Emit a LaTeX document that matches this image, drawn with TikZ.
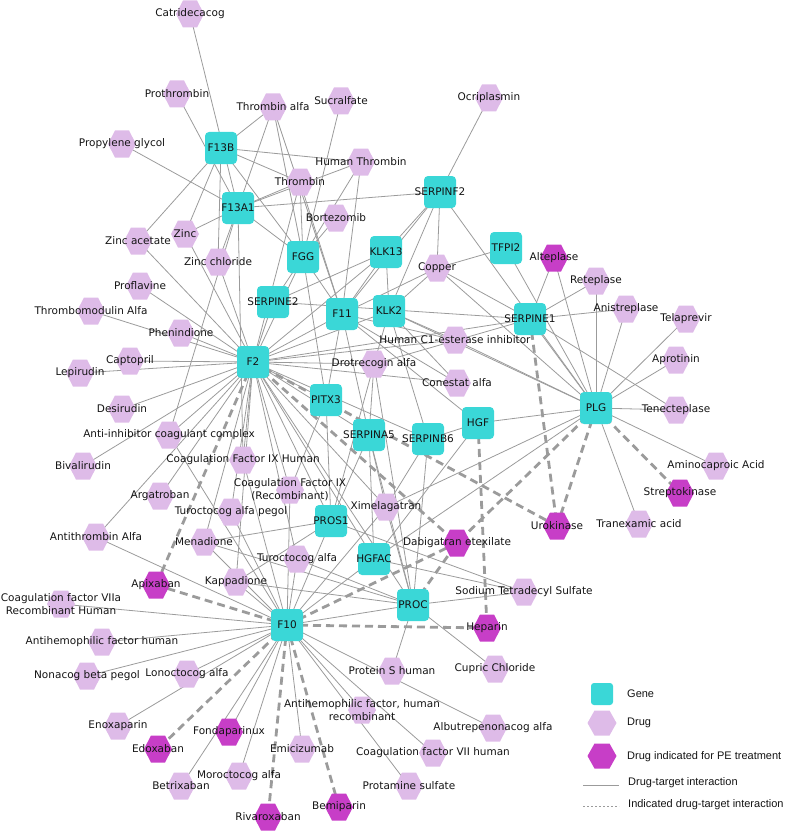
\documentclass[tikz,border=0pt]{standalone}
\usepackage{fontspec}
\setmainfont{DejaVu Sans}
\newfontfamily\legfont{Liberation Sans}
\usetikzlibrary{backgrounds}
\pgfdeclarelayer{fg}
\pgfsetlayers{background,main,fg}
\definecolor{genec}{RGB}{58,215,215}
\definecolor{drugc}{RGB}{222,187,232}
\definecolor{indc}{RGB}{199,62,199}
\definecolor{edgec}{RGB}{155,155,155}
\definecolor{dedgec}{RGB}{155,155,155}
\definecolor{txt}{RGB}{20,20,20}
\newcommand{\hexnode}[5]{%
  \node[hexbox] (#1) at (#2,#3) {};
  \fill[#4] (#1.center) ++(14,0) -- ++(-7,13.5) -- ++(-14,0) -- ++(-7,-13.5) -- ++(7,-13.5) -- ++(14,0) -- cycle;
  \begin{pgfonlayer}{fg}\node[lbl] at (#1.center) {#5};\end{pgfonlayer}%
}
\newcommand{\genenode}[4]{%
  \node[gene] (#1) at (#2,#3) {};
  \begin{pgfonlayer}{fg}\node[lbl] at (#1.center) {#4};\end{pgfonlayer}%
}
\begin{document}
\begin{tikzpicture}[x=1pt,y=-1pt,
  gene/.style={rectangle, rounded corners=4pt, fill=genec, minimum size=32pt, inner sep=0pt},
  hexbox/.style={rectangle, minimum width=28pt, minimum height=27pt, inner sep=0pt},
  lbl/.style={font=\fontsize{10.5}{13}\selectfont, text=txt, align=center, inner sep=0pt},
  legtxt/.style={font=\legfont\fontsize{11}{13}\selectfont, text=txt, anchor=west, inner sep=0pt},
  e/.style={draw=edgec, line width=0.8pt},
  de/.style={draw=dedgec, line width=2.8pt, dash pattern=on 8pt off 5pt}]
\useasboundingbox (0,0) rectangle (784,832);
% genes
\genenode{F13B}{221}{148}{F13B}
\genenode{F13A1}{238}{208}{F13A1}
\genenode{FGG}{303}{257}{FGG}
\genenode{KLK13}{386}{252}{KLK13}
\genenode{SERPINF2}{440}{192}{SERPINF2}
\genenode{TFPI2}{506}{248}{TFPI2}
\genenode{SERPINE2}{273}{302}{SERPINE2}
\genenode{F11}{342}{314}{F11}
\genenode{KLK2}{389}{311}{KLK2}
\genenode{SERPINE1}{530}{319}{SERPINE1}
\genenode{F2}{253}{362}{F2}
\genenode{PITX3}{326}{400}{PITX3}
\genenode{SERPINA5}{369}{435}{SERPINA5}
\genenode{SERPINB6}{428}{439}{SERPINB6}
\genenode{HGF}{478}{423}{HGF}
\genenode{PLG}{596}{408}{PLG}
\genenode{PROS1}{331}{521}{PROS1}
\genenode{HGFAC}{374}{559}{HGFAC}
\genenode{PROC}{413}{605}{PROC}
\genenode{F10}{287}{625}{F10}
% drugs
\hexnode{catr}{190}{14}{drugc}{Catridecacog}
\hexnode{proth}{177}{94}{drugc}{Prothrombin}
\hexnode{thralfa}{273}{107}{drugc}{Thrombin alfa}
\hexnode{sucr}{341}{101}{drugc}{Sucralfate}
\hexnode{ocri}{489}{98}{drugc}{Ocriplasmin}
\hexnode{propg}{122}{144}{drugc}{Propylene glycol}
\hexnode{humthr}{361}{162}{drugc}{Human Thrombin}
\hexnode{thr}{300}{182}{drugc}{Thrombin}
\hexnode{bort}{336}{218}{drugc}{Bortezomib}
\hexnode{zinca}{138}{241}{drugc}{Zinc acetate}
\hexnode{zinc}{185}{234}{drugc}{Zinc}
\hexnode{zincc}{218}{262}{drugc}{Zinc chloride}
\hexnode{copper}{437}{268}{drugc}{Copper}
\hexnode{retep}{596}{281}{drugc}{Reteplase}
\hexnode{anis}{626}{309}{drugc}{Anistreplase}
\hexnode{tela}{686}{319}{drugc}{Telaprevir}
\hexnode{apro}{676}{360}{drugc}{Aprotinin}
\hexnode{tenec}{676}{410}{drugc}{Tenecteplase}
\hexnode{amino}{716}{466}{drugc}{Aminocaproic Acid}
\hexnode{tranex}{639}{524}{drugc}{Tranexamic acid}
\hexnode{prof}{140}{286}{drugc}{Proflavine}
\hexnode{thrmod}{91}{311}{drugc}{Thrombomodulin Alfa}
\hexnode{phen}{181}{333}{drugc}{Phenindione}
\hexnode{capt}{130}{361}{drugc}{Captopril}
\hexnode{lepi}{80}{373}{drugc}{Lepirudin}
\hexnode{desi}{122}{409}{drugc}{Desirudin}
\hexnode{antiinh}{169}{435}{drugc}{Anti-inhibitor coagulant complex}
\hexnode{biva}{83}{466}{drugc}{Bivalirudin}
\hexnode{cf9h}{243}{460}{drugc}{Coagulation Factor IX Human}
\hexnode{cf9r}{290}{490}{drugc}{Coagulation Factor IX\\(Recombinant)}
\hexnode{arga}{160}{496}{drugc}{Argatroban}
\hexnode{turop}{231}{512}{drugc}{Turoctocog alfa pegol}
\hexnode{antithr}{96}{537}{drugc}{Antithrombin Alfa}
\hexnode{mena}{204}{542}{drugc}{Menadione}
\hexnode{turo}{297}{559}{drugc}{Turoctocog alfa}
\hexnode{kappa}{236}{582}{drugc}{Kappadione}
\hexnode{humc1}{455}{340}{drugc}{Human C1-esterase inhibitor}
\hexnode{drot}{374}{364}{drugc}{Drotrecogin alfa}
\hexnode{conest}{457}{383}{drugc}{Conestat alfa}
\hexnode{xime}{386}{507}{drugc}{Ximelagatran}
\hexnode{cf7a}{61}{604}{drugc}{Coagulation factor VIIa\\Recombinant Human}
\hexnode{antihem}{102}{642}{drugc}{Antihemophilic factor human}
\hexnode{nonacog}{87}{676}{drugc}{Nonacog beta pegol}
\hexnode{lonoc}{187}{674}{drugc}{Lonoctocog alfa}
\hexnode{enox}{118}{726}{drugc}{Enoxaparin}
\hexnode{betr}{181}{786}{drugc}{Betrixaban}
\hexnode{moroc}{239}{776}{drugc}{Moroctocog alfa}
\hexnode{emici}{302}{749}{drugc}{Emicizumab}
\hexnode{sts}{524}{592}{drugc}{Sodium Tetradecyl Sulfate}
\hexnode{protS}{392}{671}{drugc}{Protein S human}
\hexnode{cupric}{495}{669}{drugc}{Cupric Chloride}
\hexnode{antihemr}{362}{710}{drugc}{Antihemophilic factor, human\\recombinant}
\hexnode{albu}{493}{728}{drugc}{Albutrepenonacog alfa}
\hexnode{cf7h}{433}{753}{drugc}{Coagulation factor VII human}
\hexnode{protam}{409}{786}{drugc}{Protamine sulfate}
% indicated drugs
\hexnode{altep}{554}{258}{indc}{Alteplase}
\hexnode{strep}{680}{493}{indc}{Streptokinase}
\hexnode{uro}{557}{526}{indc}{Urokinase}
\hexnode{dabi}{457}{543}{indc}{Dabigatran etexilate}
\hexnode{hep}{487}{628}{indc}{Heparin}
\hexnode{apix}{156}{585}{indc}{Apixaban}
\hexnode{edox}{158}{749}{indc}{Edoxaban}
\hexnode{fonda}{229}{732}{indc}{Fondaparinux}
\hexnode{rivar}{268}{817}{indc}{Rivaroxaban}
\hexnode{bemi}{339}{807}{indc}{Bemiparin}
% edges
\begin{pgfonlayer}{background}
\foreach \a/\b in {F13B/thralfa, F13B/humthr, F13B/thr, F13B/zinca, F13B/zinc, F13B/zincc, F13B/FGG,
F13A1/catr, F13A1/proth, F13A1/propg, F13A1/thralfa, F13A1/humthr, F13A1/thr, F13A1/SERPINF2, F13A1/zincc, F13A1/zinc, F13A1/antiinh, F13A1/FGG, F13A1/cf9h,
FGG/thralfa, FGG/sucr, FGG/humthr, FGG/thr, FGG/bort, FGG/F2, FGG/SERPINE2, FGG/F11, FGG/PITX3,
F11/thralfa, F11/thr, F11/humthr, F11/KLK13, F11/SERPINF2, F11/copper, F11/humc1, F11/conest, F11/F2, F11/PITX3, F11/SERPINA5, F11/HGF,
KLK13/SERPINF2, KLK13/SERPINE2, KLK13/KLK2, KLK13/F2,
SERPINF2/ocri, SERPINF2/KLK2, SERPINF2/copper, SERPINF2/PLG,
KLK2/copper, KLK2/humc1, KLK2/conest, KLK2/SERPINB6, KLK2/F2, KLK2/drot,
SERPINE2/SERPINE1, SERPINE2/F2,
TFPI2/copper, TFPI2/PLG,
SERPINE1/altep, SERPINE1/retep, SERPINE1/anis, SERPINE1/copper, SERPINE1/tenec, SERPINE1/PLG, SERPINE1/F2, SERPINE1/drot,
PLG/altep, PLG/retep, PLG/anis, PLG/tela, PLG/apro, PLG/tenec, PLG/amino, PLG/tranex, PLG/copper, PLG/HGF, PLG/xime, PLG/HGFAC, PLG/humc1, PLG/KLK2,
F2/prof, F2/thrmod, F2/phen, F2/capt, F2/lepi, F2/desi, F2/antiinh, F2/biva, F2/arga, F2/antithr, F2/cf9h, F2/cf9r, F2/turop, F2/mena, F2/kappa, F2/turo, F2/zinca, F2/zinc, F2/zincc, F2/humc1, F2/conest, F2/drot, F2/xime, F2/PITX3, F2/SERPINA5, F2/SERPINB6, F2/PROS1, F2/HGFAC, F2/PROC, F2/thr,
PITX3/PROS1, PITX3/cf9r,
SERPINA5/drot, SERPINA5/PROS1, SERPINA5/HGFAC, SERPINA5/PROC, SERPINA5/xime,
SERPINB6/HGF, SERPINB6/xime, SERPINB6/PROC,
HGF/HGFAC,
PROS1/mena, PROS1/kappa, PROS1/sts, PROS1/drot, PROS1/F10,
HGFAC/F10, HGFAC/sts,
PROC/mena, PROC/kappa, PROC/turo, PROC/drot, PROC/xime, PROC/sts, PROC/protS, PROC/cupric, PROC/F10,
F10/cf7a, F10/antihem, F10/nonacog, F10/lonoc, F10/enox, F10/fonda, F10/betr, F10/moroc, F10/emici, F10/antihemr, F10/cf7h, F10/protam, F10/albu, F10/kappa, F10/mena, F10/turo, F10/turop, F10/cf9h, F10/cf9r, F10/antithr, F10/antiinh, F10/xime}
  {\draw[e] (\a.center) -- (\b.center);}
\foreach \a/\b in {F2/apix, F2/dabi, F2/uro, F10/apix, F10/edox, F10/rivar, F10/bemi, F10/hep, F10/dabi, PLG/uro, PLG/strep, PLG/dabi, SERPINE1/uro, HGF/hep, PROC/dabi}
  {\draw[de] (\a.center) -- (\b.center);}
\end{pgfonlayer}
% legend
\node[gene, minimum size=22pt, rounded corners=3pt] (lgene) at (602,694) {};
\node[legtxt] (lgenet) at (627,694) {Gene};
\node[hexbox] (ldrug) at (602,723) {};
\fill[drugc] (ldrug.center) ++(14.5,0) -- ++(-7,12.5) -- ++(-15,0) -- ++(-7,-12.5) -- ++(7,-12.5) -- ++(15,0) -- cycle;
\node[legtxt] (ldrugt) at (627,723) {Drug};
\node[hexbox] (lind) at (602,756) {};
\fill[indc] (lind.center) ++(14.5,0) -- ++(-7,12.5) -- ++(-15,0) -- ++(-7,-12.5) -- ++(7,-12.5) -- ++(15,0) -- cycle;
\node[legtxt] (lindt) at (627,757) {Drug indicated for PE treatment};
\coordinate (ls1) at (583,785);
\coordinate (ls2) at (619,785);
\draw[edgec, line width=1pt] (ls1) -- (ls2);
\node[legtxt] (lst) at (628,783) {Drug-target interaction};
\coordinate (ld1) at (583,806);
\coordinate (ld2) at (619,806);
\draw[edgec, line width=0.9pt, dash pattern=on 2pt off 2pt] (ld1) -- (ld2);
\node[legtxt] (ldt) at (628,805) {Indicated drug-target interaction};
\end{tikzpicture}
\end{document}
